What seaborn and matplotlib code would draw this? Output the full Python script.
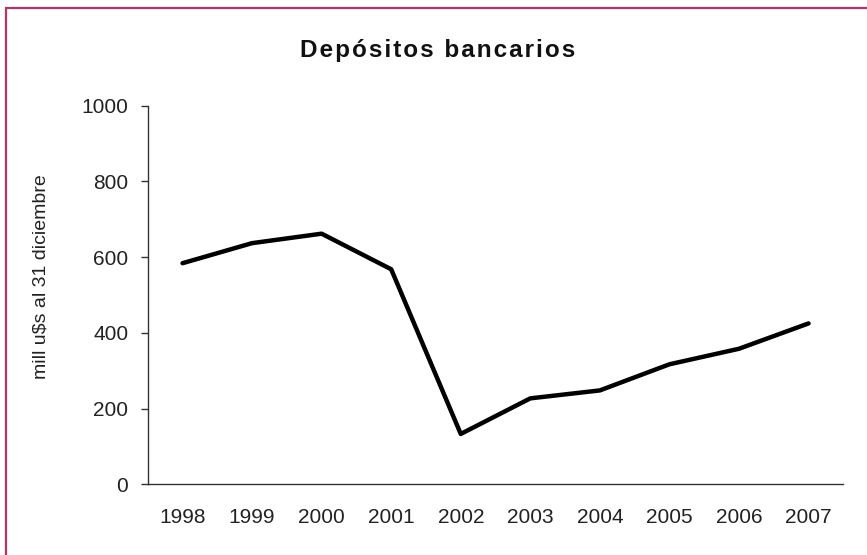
import matplotlib
matplotlib.use("Agg")
import matplotlib.pyplot as plt
import seaborn as sns
import pandas as pd
from matplotlib.patches import Rectangle

years = [1998, 1999, 2000, 2001, 2002, 2003, 2004, 2005, 2006, 2007]
depositos = [584, 637, 662, 568, 133, 227, 248, 317, 358, 425]
yticks = [0, 200, 400, 600, 800, 1000]
title = "Depósitos bancarios"

df = pd.DataFrame({"year": years, "value": depositos})

sns.set_theme(style="white")
plt.rcParams['font.family'] = ['Liberation Sans', 'DejaVu Sans']

fig = plt.figure(figsize=(8.67, 5.55), dpi=100)
ax = fig.add_axes([0.1704, 0.1274, 0.8023, 0.6821])

sns.lineplot(data=df, x="year", y="value", ax=ax, color="black", linewidth=3.2)

ax.set_xlim(1997.5, 2007.5)
ax.set_ylim(0, 1000)
ax.set_xticks(years)
ax.set_xticklabels([str(y) for y in years])
ax.set_yticks(yticks)
ax.set_xlabel("")
ax.set_ylabel("mill u$s al 31 diciembre", fontsize=14, color="#222222")
ax.yaxis.set_label_coords(-0.1415, 0.548)

for s in ["top", "right"]:
    ax.spines[s].set_visible(False)
for s in ["left", "bottom"]:
    ax.spines[s].set_color("#333333")
    ax.spines[s].set_linewidth(1.0)

ax.tick_params(axis="y", length=5, width=1, color="#333333", pad=9, labelsize=15, labelcolor="#222222", left=True)
ax.tick_params(axis="x", length=0, pad=17, labelsize=15, labelcolor="#222222")

spaced = "\u200a".join(title)
fig.text(0.5046, (555 - 57) / 555, spaced, ha="center", va="baseline",
         fontsize=17.5, fontweight="bold", color="#111111",
         family=['Liberation Sans', 'DejaVu Sans'])

fig.patches.append(Rectangle((5.5/867, -0.1), 1.2, 1.1 - 7.5/555,
                             transform=fig.transFigure, fill=False,
                             edgecolor="#B8336A", linewidth=1.6, figure=fig))

fig.savefig("out.png", dpi=100)
